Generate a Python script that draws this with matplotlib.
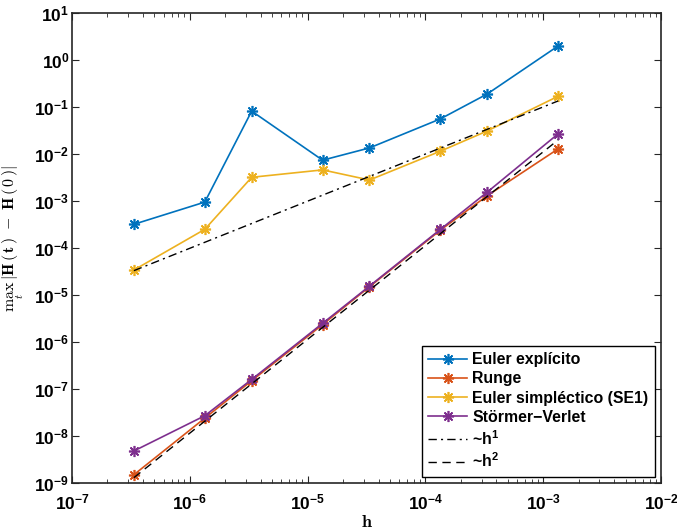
import numpy as np
import matplotlib
matplotlib.use('Agg')
import matplotlib.pyplot as plt

# step sizes and max energy errors
h = [3.35e-7, 1.34e-6, 3.35e-6, 1.34e-5, 3.35e-5, 1.34e-4, 3.35e-4, 1.34e-3]
err_euler = [3.2e-4, 9.5e-4, 8.2e-2, 7.4e-3, 1.35e-2, 5.6e-2, 1.9e-1, 2.0]
err_runge = [1.5e-9, 2.4e-8, 1.5e-7, 2.35e-6, 1.5e-5, 2.4e-4, 1.3e-3, 1.29e-2]
err_se1 = [3.4e-5, 2.5e-4, 3.2e-3, 4.6e-3, 2.8e-3, 1.15e-2, 3.1e-2, 1.7e-1]
err_sv = [4.8e-9, 2.7e-8, 1.6e-7, 2.5e-6, 1.55e-5, 2.5e-4, 1.55e-3, 2.7e-2]

# reference slopes, end points only
ref_h = [3.35e-7, 1.34e-3]
ref_1 = [3.3e-5, 1.35e-1]
ref_2 = [1.3e-9, 2.0e-2]

labels = ['Euler expl\u00edcito', 'Runge', 'Euler simpl\u00e9ctico (SE1)', 'St\u00f6rmer\u2212Verlet']
colors = ['#0072BD', '#D95319', '#EDB120', '#7E2F8E']

plt.rcParams['font.family'] = ['Liberation Sans', 'DejaVu Sans']
plt.rcParams['font.weight'] = 'bold'
plt.rcParams['mathtext.fontset'] = 'custom'
plt.rcParams['mathtext.rm'] = 'Liberation Sans:bold'
plt.rcParams['mathtext.it'] = 'Liberation Sans:bold'
plt.rcParams['mathtext.bf'] = 'Liberation Sans:bold'
plt.rcParams['axes.unicode_minus'] = False

axcol = '#262626'
star = (8, 2, 0)

fig = plt.figure(figsize=(6.77, 5.31), dpi=100)
ax = fig.add_axes([0.1064, 0.0904, 0.87, 0.885])

series = [err_euler, err_runge, err_se1, err_sv]
for y, lab, c in zip(series, labels, colors):
    ax.loglog(h, y, '-', color=c, lw=1.2, marker=star, ms=8, mew=1.2, label=lab)

ax.loglog(ref_h, ref_1, color='k', lw=1.0, dashes=(6, 3, 1.5, 3), label='~h$^{1}$')
ax.loglog(ref_h, ref_2, color='k', lw=1.0, dashes=(6, 4), label='~h$^{2}$')

ax.set_xlim(1e-7, 1e-2)
ax.set_ylim(1e-9, 1e1)
ax.set_xticks([1e-7, 1e-6, 1e-5, 1e-4, 1e-3, 1e-2])
ax.set_yticks([10.0 ** k for k in range(-9, 2)])

ax.tick_params(which='both', direction='in', top=True, right=True, colors=axcol,
               labelcolor='k', labelsize=12.5)
ax.tick_params(which='major', length=5, width=0.8)
ax.tick_params(which='minor', length=3, width=0.6)
ax.tick_params(axis='x', which='major', pad=7)
ax.tick_params(axis='y', which='major', pad=2)
for sp in ax.spines.values():
    sp.set_color(axcol)
    sp.set_linewidth(1.2)

ax.set_xlabel(r'$\mathbf{h}$', math_fontfamily='cm', fontsize=13, labelpad=1)
ax.set_ylabel(r'$\max_{t}\,|\mathbf{H}\,(\,\mathbf{t}\,)\;\;-\;\;\mathbf{H}\,(\,\mathbf{0}\,)|$',
              math_fontfamily='cm', fontsize=11.5)
ax.yaxis.set_label_coords(-0.078, 0.52)

leg = ax.legend(loc='lower right', fontsize=11.4, frameon=True, fancybox=False,
                edgecolor='k', framealpha=1, borderaxespad=0.4, handlelength=2.5,
                labelspacing=0.26, borderpad=0.4, handletextpad=0.3)
leg.get_frame().set_linewidth(1.0)

fig.savefig('out.png', dpi=100)
